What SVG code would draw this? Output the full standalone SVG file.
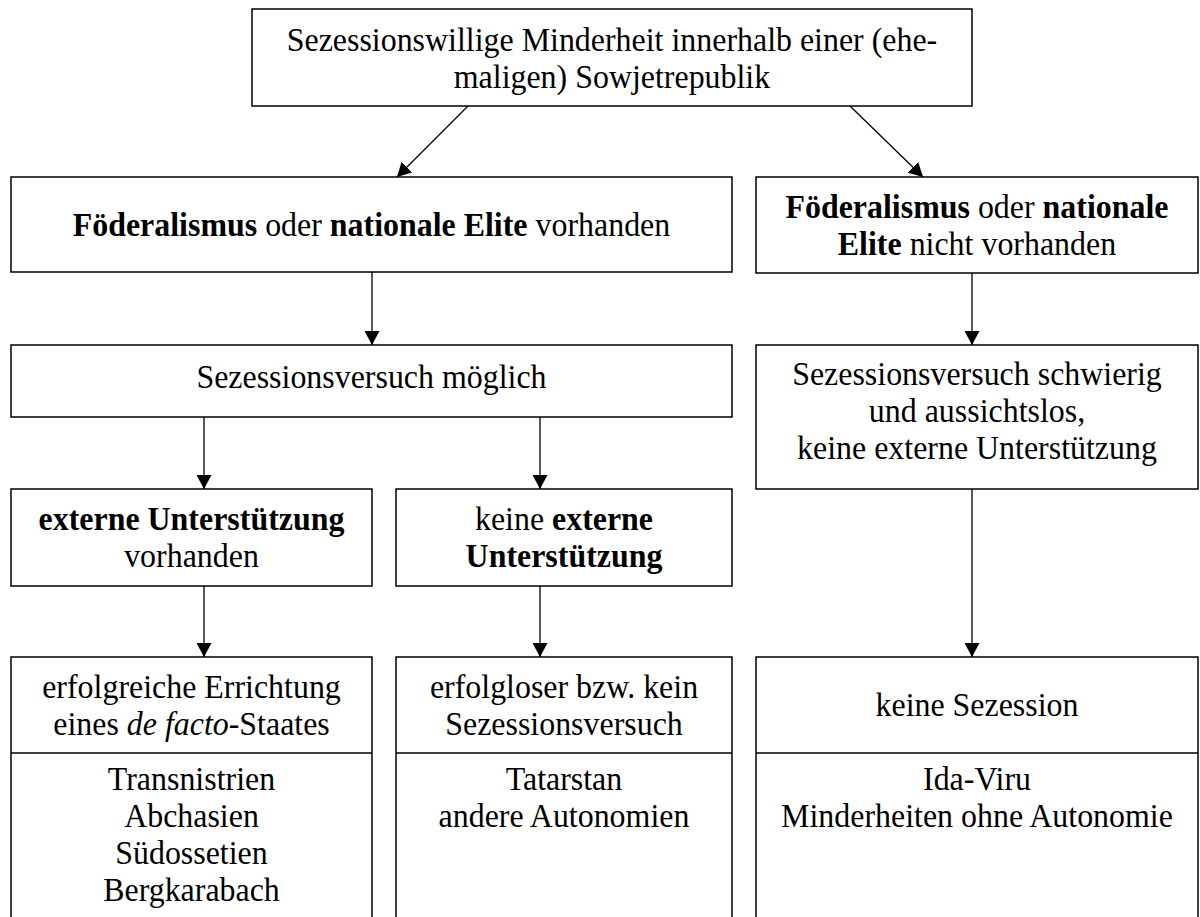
<svg xmlns="http://www.w3.org/2000/svg" width="1200" height="917" viewBox="0 0 1200 917">
<defs>
<style>
.box{fill:#fff;stroke:#000;stroke-width:1.5}
.ln{fill:none;stroke:#000;stroke-width:1.5}
.con{fill:none;stroke:#000;stroke-width:1.3;marker-end:url(#ah)}
text{font-family:"Liberation Serif","Times New Roman",serif;font-size:33.6px;fill:#000;text-anchor:middle}
.b{font-weight:bold}
.i{font-style:italic}
</style>
<marker id="ah" markerUnits="userSpaceOnUse" markerWidth="15" markerHeight="15" refX="14" refY="7.5" orient="auto">
<path d="M0,0 L14,7.5 L0,15 Z" fill="#000"/>
</marker>
</defs>
<rect width="1200" height="917" fill="#fff"/>
<g id="connectors">
<line class="con" x1="468" y1="106" x2="397" y2="177"/>
<line class="con" x1="850" y1="106" x2="923" y2="177"/>
<line class="con" x1="372" y1="272" x2="372" y2="345"/>
<line class="con" x1="972" y1="273" x2="972" y2="345"/>
<line class="con" x1="204" y1="417" x2="204" y2="489"/>
<line class="con" x1="540" y1="417" x2="540" y2="489"/>
<line class="con" x1="204" y1="586" x2="204" y2="657"/>
<line class="con" x1="540" y1="586" x2="540" y2="657"/>
<line class="con" x1="972" y1="489" x2="972" y2="657"/>
</g>
<g id="n-top">
<rect class="box" x="252" y="9" width="720" height="97"/>
<g transform="translate(612 0) scale(0.95 1) translate(-612 0)">
<text x="612" y="51">Sezessionswillige Minderheit innerhalb einer (ehe-</text>
<text x="612" y="88">maligen) Sowjetrepublik</text>
</g>
</g>
<g id="n-foed-ja">
<rect class="box" x="11" y="177" width="721" height="95"/>
<g transform="translate(371.5 0) scale(0.95 1) translate(-371.5 0)">
<text x="371.5" y="236"><tspan class="b">Föderalismus</tspan> oder <tspan class="b">nationale Elite</tspan> vorhanden</text>
</g>
</g>
<g id="n-foed-nein">
<rect class="box" x="756" y="177" width="442" height="96"/>
<g transform="translate(977 0) scale(0.95 1) translate(-977 0)">
<text x="977" y="218"><tspan class="b">Föderalismus</tspan> oder <tspan class="b">nationale</tspan></text>
<text x="977" y="255"><tspan class="b">Elite</tspan> nicht vorhanden</text>
</g>
</g>
<g id="n-moeglich">
<rect class="box" x="11" y="345" width="721" height="72"/>
<g transform="translate(371.5 0) scale(0.95 1) translate(-371.5 0)">
<text x="371.5" y="388">Sezessionsversuch möglich</text>
</g>
</g>
<g id="n-schwierig">
<rect class="box" x="756" y="345" width="442" height="144"/>
<g transform="translate(977 0) scale(0.95 1) translate(-977 0)">
<text x="977" y="385">Sezessionsversuch schwierig</text>
<text x="977" y="422">und aussichtslos,</text>
<text x="977" y="459">keine externe Unterstützung</text>
</g>
</g>
<g id="n-ext-ja">
<rect class="box" x="11" y="489" width="361" height="97"/>
<g transform="translate(191.5 0) scale(0.95 1) translate(-191.5 0)">
<text x="191.5" y="530"><tspan class="b">externe Unterstützung</tspan></text>
<text x="191.5" y="567">vorhanden</text>
</g>
</g>
<g id="n-ext-nein">
<rect class="box" x="396" y="489" width="336" height="97"/>
<g transform="translate(564 0) scale(0.95 1) translate(-564 0)">
<text x="564" y="530">keine <tspan class="b">externe</tspan></text>
<text x="564" y="567"><tspan class="b">Unterstützung</tspan></text>
</g>
</g>
<g id="n-erfolg">
<path class="ln" d="M11,930 V657 H372 V930 M11,753 H372"/>
<g transform="translate(191.5 0) scale(0.95 1) translate(-191.5 0)">
<text x="191.5" y="698">erfolgreiche Errichtung</text>
<text x="191.5" y="735">eines <tspan class="i">de facto</tspan>-Staates</text>
<text x="191.5" y="790">Transnistrien</text>
<text x="191.5" y="827">Abchasien</text>
<text x="191.5" y="864">Südossetien</text>
<text x="191.5" y="901">Bergkarabach</text>
</g>
</g>
<g id="n-erfolglos">
<path class="ln" d="M396,930 V657 H732 V930 M396,753 H732"/>
<g transform="translate(564 0) scale(0.95 1) translate(-564 0)">
<text x="564" y="698">erfolgloser bzw. kein</text>
<text x="564" y="735">Sezessionsversuch</text>
<text x="564" y="790">Tatarstan</text>
<text x="564" y="827">andere Autonomien</text>
</g>
</g>
<g id="n-keine">
<path class="ln" d="M756,930 V657 H1198 V930 M756,753 H1198"/>
<g transform="translate(977 0) scale(0.95 1) translate(-977 0)">
<text x="977" y="716">keine Sezession</text>
<text x="977" y="790">Ida-Viru</text>
<text x="977" y="827">Minderheiten ohne Autonomie</text>
</g>
</g>
</svg>
